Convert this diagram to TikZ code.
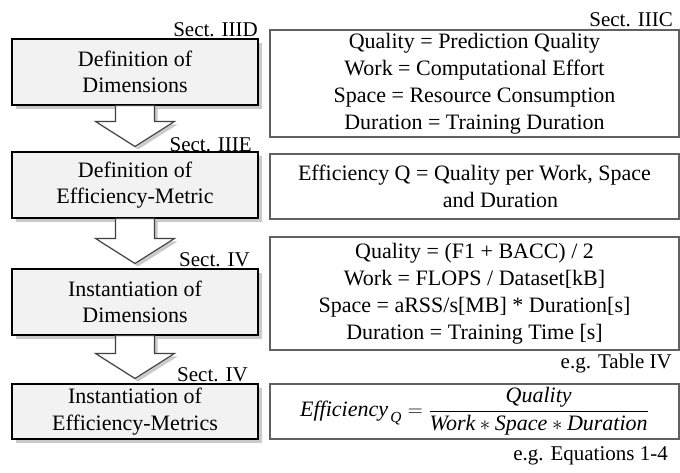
\documentclass[tikz,border=0pt]{standalone}
\usepackage{amsmath}
\usepackage{fontspec}
\setmainfont{Liberation Serif}
\usetikzlibrary{shadows,calc}
\begin{document}
\begin{tikzpicture}[x=1pt,y=-1pt,
  stage/.style={draw=black,line width=1.1pt,fill=black!5,minimum width=246pt,
    align=center,inner sep=2pt,font=\fontsize{22}{26.5}\selectfont,
    drop shadow={opacity=0.35,shadow xshift=3.5pt,shadow yshift=-3.5pt,fill=black!60}},
  detail/.style={draw=black!62,line width=1.4pt,fill=white,minimum width=409pt,
    align=center,inner sep=2pt,font=\fontsize{22}{27}\selectfont},
  tag/.style={font=\fontsize{21}{24}\selectfont,inner sep=0pt},
  flow/.style={draw=black!75,line width=1.1pt,fill=white,line join=miter,
    drop shadow={opacity=0.35,shadow xshift=3pt,shadow yshift=-3pt,fill=black!60}}]
\useasboundingbox (0,0) rectangle (680,472);

% stages on the left
\node[stage,minimum height=66pt] (s1) at (135,72)  {Definition of\\Dimensions};
\node[stage,minimum height=66pt] (s2) at (135,185) {Definition of\\Efficiency-Metric};
\node[stage,minimum height=66pt] (s3) at (135,302) {Instantiation of\\Dimensions};
\node[stage,minimum height=55pt] (s4) at (135,411.5) {Instantiation of\\Efficiency-Metrics};

% block arrows between stages (let-coordinates are in canvas units, y upwards)
\newcommand{\stagearrow}[2]{%
  \path[flow] let \p1=(#1.south), \p2=(#2.north) in
    (\x1-19.5,\y1) -- (\x1+19.5,\y1) -- (\x1+19.5,\y2+30) -- (\x1+39.5,\y2+30)
    -- (\x1,\y2+5) -- (\x1-39.5,\y2+30) -- (\x1-19.5,\y2+30) -- cycle;}
\stagearrow{s1}{s2}
\stagearrow{s2}{s3}
\stagearrow{s3}{s4}

% details on the right
\node[detail,minimum height=107pt] (d1) at (474.5,83.5)
  {Quality = Prediction Quality\\Work = Computational Effort\\Space = Resource Consumption\\Duration = Training Duration};
\node[detail,minimum height=65pt] (d2) at (474.5,186.5)
  {Efficiency Q = Quality per Work, Space\\\hspace*{52pt}and Duration};
\node[detail,minimum height=113pt] (d3) at (474.5,293.5)
  {Quality = (F1 + BACC) / 2\\Work = FLOPS / Dataset[kB]\\Space = aRSS/s[MB] * Duration[s]\\Duration = Training Time [s]};
\node[detail,minimum height=55pt] (d4) at (474.5,411.5)
  {$\displaystyle \textit{Efficiency}_{\,\textit{Q}} = \frac{\textit{Quality}}{\textit{Work} \ast \textit{Space} \ast \textit{Duration}}$};

% section references
\node[tag,anchor=base east] at (258,36)  {Sect. IIID};
\node[tag,anchor=base east] at (252,151) {Sect. IIIE};
\node[tag,anchor=base east] at (250,266) {Sect. IV};
\node[tag,anchor=base east] at (248,381) {Sect. IV};
\node[tag,anchor=base east] at (673,26)  {Sect. IIIC};
\node[tag,anchor=base east] at (672,368) {e.g. Table IV};
\node[tag,anchor=base east] at (668,460) {e.g. Equations 1-4};
\end{tikzpicture}
\end{document}
